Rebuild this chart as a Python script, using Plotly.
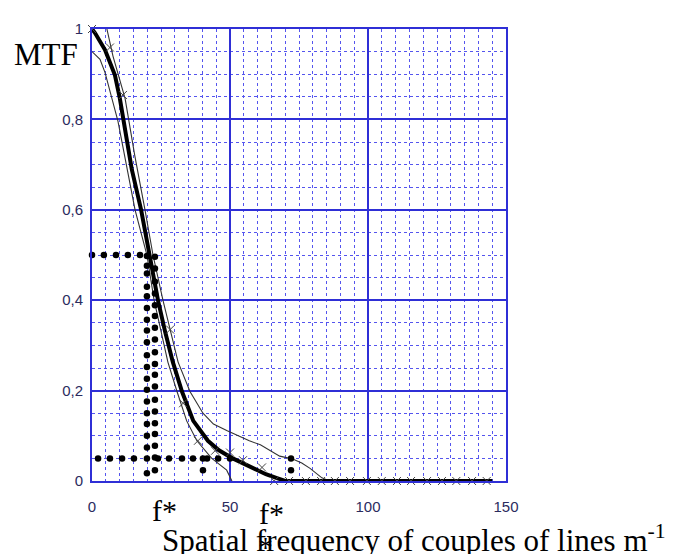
import plotly.graph_objects as go

# ---- data ----
main_x = [0, 1.1, 4.7, 8.3, 10.1, 12.0, 14.4, 17.8, 20.8, 23.9, 26.5, 29.3, 32.6, 36.7, 42, 46, 51, 55, 59.7, 63, 67, 70, 145]
main_y = [1.0, 0.991, 0.954, 0.898, 0.846, 0.774, 0.69, 0.6, 0.5, 0.4, 0.33, 0.263, 0.198, 0.133, 0.089, 0.068, 0.05, 0.038, 0.024, 0.015, 0.0065, 0, 0]

upper_x = [5.4, 7.6, 12, 15.5, 19.2, 22.1, 25.7, 31.2, 35.5, 40.2, 44, 49, 57, 61, 68, 72.5, 76, 79, 83.3, 86]
upper_y = [1.0, 0.94, 0.846, 0.72, 0.6, 0.5, 0.4, 0.263, 0.198, 0.15, 0.126, 0.111, 0.089, 0.08, 0.055, 0.049, 0.04, 0.028, 0.007, 0]

lower_x = [0, 2.9, 4.7, 7.0, 9.4, 15.6, 17.8, 19.9, 22.5, 27.5, 30.8, 34.3, 38, 43.4, 48.8, 50.7]
lower_y = [0.95, 0.933, 0.904, 0.85, 0.796, 0.6, 0.546, 0.5, 0.4, 0.263, 0.198, 0.133, 0.089, 0.05, 0.024, 0]

cross_x = [0, 6.5, 11.2, 28.3, 33, 38.4, 44.6, 50, 54.7, 61.6,
           66, 71.4, 77.5, 83, 88, 93.5, 99.6, 105, 110.5, 115.6, 121.4, 126.8, 132, 137.7, 143]
cross_y = [1.0, 0.959, 0.854, 0.335, 0.172, 0.089, 0.067, 0.063, 0.046, 0.03,
           0, 0, 0, 0, 0, 0, 0, 0, 0, 0, 0, 0, 0, 0, 0]

half_x = [0, 4.3, 8.7, 13, 17.4]
half_y = [0.5, 0.5, 0.5, 0.5, 0.5]

col1_x = [19.9] * 20
col1_y = [0.498, 0.476, 0.459, 0.430, 0.409, 0.383, 0.357, 0.333, 0.307, 0.278,
          0.252, 0.226, 0.202, 0.176, 0.150, 0.126, 0.100, 0.074, 0.050, 0.017]

col2_x = [22.8] * 19
col2_y = [0.496, 0.470, 0.441, 0.415, 0.389, 0.365, 0.339, 0.313, 0.285, 0.259,
          0.235, 0.209, 0.180, 0.154, 0.128, 0.104, 0.078, 0.052, 0.024]

low_x = [-2.2, 2.2, 6.5, 10.9, 15.2, 23.9, 27.9, 32.6, 36.6, 41.7, 45.7, 50]
low_y = [0.05] * 12

col3_x = [40.2, 40.2, 40.2]
col3_y = [0.05, 0.024, -0.003]
col4_x = [72.1, 72.1, 72.1]
col4_y = [0.05, 0.024, -0.003]

x_ticks = [0, 50, 100, 150]
x_labels = ["0", "50", "100", "150"]
y_ticks = [0, 0.2, 0.4, 0.6, 0.8, 1.0]
y_labels = ["0", "0,2", "0,4", "0,6", "0,8", "1"]

# ---- figure ----
fig = go.Figure()

fig.add_trace(go.Scatter(x=upper_x, y=upper_y, mode="lines",
                         line=dict(color="#333333", width=1.1), hoverinfo="skip"))
fig.add_trace(go.Scatter(x=lower_x, y=lower_y, mode="lines",
                         line=dict(color="#333333", width=1.1), hoverinfo="skip"))
fig.add_trace(go.Scatter(x=main_x, y=main_y, mode="lines",
                         line=dict(color="black", width=4), hoverinfo="skip"))
fig.add_trace(go.Scatter(x=cross_x, y=cross_y, mode="markers", cliponaxis=False,
                         marker=dict(symbol="x-thin-open", size=8, color="#444444",
                                     line=dict(color="#444444", width=1)),
                         hoverinfo="skip"))

dot_marker = dict(color="black", size=6.5, symbol="circle")
for xs, ys in [(half_x, half_y), (col1_x, col1_y), (col2_x, col2_y),
               (low_x, low_y), (col3_x, col3_y), (col4_x, col4_y)]:
    fig.add_trace(go.Scatter(x=xs, y=ys, mode="markers", cliponaxis=False,
                             marker=dot_marker, hoverinfo="skip"))

major = "#2f2fd6"
minor = "#5555ee"
tick_font = dict(family="Liberation Sans Narrow, Liberation Sans, Arial", size=15, color="#2b2b5e")

fig.update_xaxes(range=[0, 150], tickvals=x_ticks, ticktext=x_labels,
                 showgrid=True, gridcolor=major, gridwidth=2,
                 showline=True, mirror=True, linecolor=major, linewidth=2,
                 zeroline=False, ticks="", ticklabelstandoff=11, tickfont=tick_font,
                 minor=dict(dtick=5, showgrid=True, gridcolor=minor, gridwidth=1, griddash="dot"))
fig.update_yaxes(range=[0, 1], tickvals=y_ticks, ticktext=y_labels,
                 showgrid=True, gridcolor=major, gridwidth=2,
                 showline=True, mirror=True, linecolor=major, linewidth=2,
                 zeroline=False, ticks="", ticklabelstandoff=4, tickfont=tick_font,
                 minor=dict(dtick=0.05, showgrid=True, gridcolor=minor, gridwidth=1, griddash="dot"))

# target page pixels of the plot area; the page body adds an 8 px offset
OFF = 8
L, R, T, B = 92, 506, 21, 481
W = R - L
H = B - T
FW, FH = 680 - OFF, 554 - OFF

def px(xp, yp):
    return (xp - L) / W, (B - yp) / H

serif = "Liberation Serif, Times New Roman, serif"
annots = []
ax, ay = px(12, 47)
annots.append(dict(x=ax, y=ay, text="MTF", xanchor="left", yanchor="middle",
                   font=dict(family=serif, size=31, color="black")))
ax, ay = px(150, 511)
annots.append(dict(x=ax, y=ay, text="f*", xanchor="left", yanchor="middle",
                   font=dict(family=serif, size=30, color="black")))
ax, ay = px(257, 514)
annots.append(dict(x=ax, y=ay, text="f*", xanchor="left", yanchor="middle",
                   font=dict(family=serif, size=30, color="black")))
ax, ay = px(256, 548)
annots.append(dict(x=ax, y=ay, text="*", xanchor="left", yanchor="middle",
                   font=dict(family=serif, size=30, color="black")))
ax, ay = px(160, 540)
annots.append(dict(x=ax, y=ay, text="Spatial frequency of couples of lines m<sup>-1</sup>",
                   xanchor="left", yanchor="middle",
                   font=dict(family=serif, size=31, color="black")))
for a in annots:
    a.update(xref="paper", yref="paper", showarrow=False)

fig.update_layout(width=FW, height=FH,
                  margin=dict(l=L - OFF, r=FW - (R - OFF), t=T - OFF, b=FH - (B - OFF)),
                  paper_bgcolor="white", plot_bgcolor="white", showlegend=False,
                  separators=", ", annotations=annots)

fig.write_html("out.html")
